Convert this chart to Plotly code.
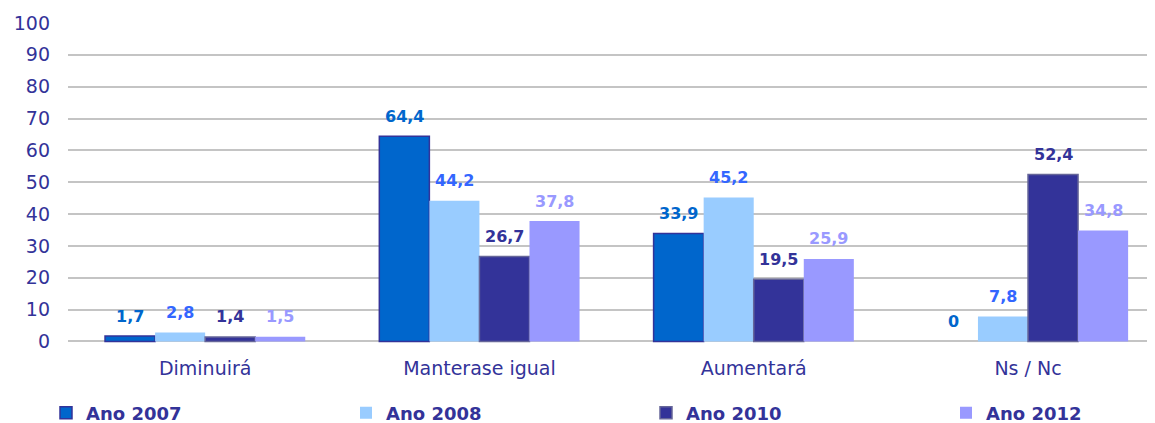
import plotly.graph_objects as go

categories = ["Diminuirá", "Manterase igual", "Aumentará", "Ns / Nc"]
series_names = ["Ano 2007", "Ano 2008", "Ano 2010", "Ano 2012"]
ano_2007 = [1.7, 64.4, 33.9, 0]
ano_2008 = [2.8, 44.2, 45.2, 7.8]
ano_2010 = [1.4, 26.7, 19.5, 52.4]
ano_2012 = [1.5, 37.8, 25.9, 34.8]
y_ticks = [0, 10, 20, 30, 40, 50, 60, 70, 80, 90, 100]

values = [ano_2007, ano_2008, ano_2010, ano_2012]
fill_colors = ["#0066CC", "#99CCFF", "#333399", "#9999FF"]
line_colors = ["#333399", "#99CCFF", "#666699", "#9999FF"]
line_widths = [1.5, 0, 1.5, 0]
label_colors = ["#0066CC", "#3366FF", "#333399", "#9999FF"]
legend_ids = ["legend", "legend2", "legend3", "legend4"]
legend_x_px = [38, 338, 638, 938]
FONT = "DejaVu Sans, Verdana, sans-serif"

W, H = 1147, 415  # page adds an 8px body margin

fig = go.Figure()
for name, vals, fc, lc, lw, lid in zip(series_names, values, fill_colors, line_colors, line_widths, legend_ids):
    fig.add_trace(go.Bar(
        x=categories, y=vals, name=name, legend=lid,
        marker=dict(color=fc, line=dict(color=lc, width=[lw if v > 0 else 0 for v in vals])),
    ))

# data labels above bars
bar_px = 50
offsets = [-1.5 * bar_px, -0.5 * bar_px, 0.5 * bar_px, 1.5 * bar_px]
for vals, col, off in zip(values, label_colors, offsets):
    for cat, v in zip(categories, vals):
        txt = ("%g" % v).replace(".", ",")
        fig.add_annotation(
            x=cat, y=v, xref="x", yref="y", text="<b>%s</b>" % txt,
            showarrow=False, xshift=off, yshift=20, yanchor="middle", xanchor="center",
            font=dict(family=FONT, size=16, color=col),
        )

legend_style = dict(
    orientation="h", xref="container", yref="container",
    y=1 - 405 / H, xanchor="left", yanchor="middle",
    font=dict(family=FONT, size=18, color="#333399", weight="bold"),
    bgcolor="rgba(0,0,0,0)",
)
legends = {}
for lid, lx in zip(legend_ids, legend_x_px):
    legends[lid] = dict(legend_style, x=lx / W)

fig.update_layout(
    width=W, height=H,
    margin=dict(l=60, r=0, t=15, b=80),
    paper_bgcolor="white", plot_bgcolor="white",
    barmode="group", bargap=0.27, bargroupgap=0,
    font=dict(family=FONT, color="#333399"),
    showlegend=True,
    xaxis=dict(
        range=[-0.5, 3.463], showgrid=False, zeroline=False, showline=False,
        tickfont=dict(family=FONT, size=19, color="#333399"),
        ticks="", ticklabelstandoff=12,
    ),
    yaxis=dict(
        range=[-0.5, 100], tickvals=y_ticks, showgrid=True, gridcolor="#C4C4C4", gridwidth=2,
        zeroline=True, zerolinecolor="#C4C4C4", zerolinewidth=2, showline=False,
        tickfont=dict(family=FONT, size=19, color="#333399"),
        ticks="", ticklabelstandoff=17,
    ),
    **legends,
)

fig.write_html("out.html")
